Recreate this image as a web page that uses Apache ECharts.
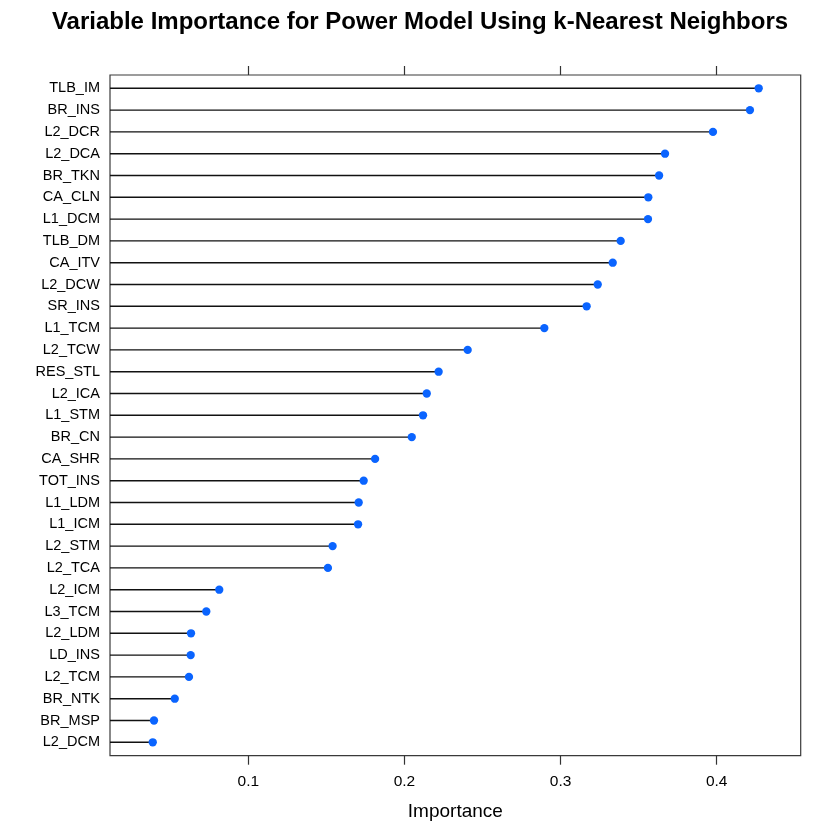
<!DOCTYPE html>
<html>
<head>
<meta charset="utf-8">
<script src="https://cdn.jsdelivr.net/npm/echarts@6/dist/echarts.min.js"></script>
<style>
html,body{margin:0;padding:0;background:#fff;}
#chart{width:840px;height:840px;}
</style>
</head>
<body>
<div id="chart"></div>
<script>
const categories = ["TLB_IM","BR_INS","L2_DCR","L2_DCA","BR_TKN","CA_CLN","L1_DCM","TLB_DM","CA_ITV","L2_DCW","SR_INS","L1_TCM","L2_TCW","RES_STL","L2_ICA","L1_STM","BR_CN","CA_SHR","TOT_INS","L1_LDM","L1_ICM","L2_STM","L2_TCA","L2_ICM","L3_TCM","L2_LDM","LD_INS","L2_TCM","BR_NTK","BR_MSP","L2_DCM"];
const importance = [0.4269,0.4213,0.3976,0.3669,0.3631,0.3562,0.3560,0.3385,0.3334,0.3238,0.3167,0.2896,0.2405,0.2219,0.2143,0.2119,0.2047,0.1812,0.1739,0.1707,0.1703,0.1540,0.1510,0.0814,0.0731,0.0633,0.0631,0.0620,0.0529,0.0396,0.0388];
const tickValues = [0.1,0.2,0.3,0.4];
const xMin = 0.01142, xMax = 0.4538;

const chart = echarts.init(document.getElementById('chart'), null, {renderer:'canvas'});
const font = 'Liberation Sans, Arial, Helvetica, sans-serif';
const option = {
  backgroundColor:'#fff',
  animation:false,
  title:{
    text:'Variable Importance for Power Model Using k-Nearest Neighbors',
    left:'center', top:5,
    textStyle:{fontFamily:font, fontSize:24, fontWeight:'bold', color:'#000'}
  },
  grid:[
    {left:110, right:39.3, top:75, bottom:84.3, show:true, borderColor:'#3a3a3a', borderWidth:1.2, backgroundColor:'transparent'},
    {left:110, right:39.3, top:77.4, bottom:86.8}
  ],
  xAxis:[
    {gridIndex:0, type:'value', position:'bottom', min:xMin, max:xMax,
     axisLine:{show:false}, splitLine:{show:false},
     axisTick:{show:true, length:9, customValues:tickValues, lineStyle:{color:'#333', width:1.2}},
     axisLabel:{show:true, customValues:tickValues, fontFamily:font, fontSize:15.5, color:'#000', margin:18,
       formatter:v=>String(Math.round(v*10)/10)},
     name:'Importance', nameLocation:'middle', nameGap:47,
     nameTextStyle:{fontFamily:font, fontSize:19, color:'#000'}},
    {gridIndex:0, type:'value', position:'top', min:xMin, max:xMax,
     axisLine:{show:false}, splitLine:{show:false},
     axisTick:{show:true, length:9, customValues:tickValues, lineStyle:{color:'#333', width:1.2}},
     axisLabel:{show:false}},
    {gridIndex:1, type:'value', min:xMin, max:xMax, show:false}
  ],
  yAxis:[
    {gridIndex:0, type:'value', show:false, min:0, max:1},
    {gridIndex:1, type:'category', data:categories, inverse:true,
     axisLine:{show:false}, axisTick:{show:false}, splitLine:{show:false},
     axisLabel:{fontFamily:font, fontSize:14.5, color:'#000', margin:10}}
  ],
  series:[
    {type:'bar', xAxisIndex:2, yAxisIndex:1, data:importance, barWidth:1.4,
     itemStyle:{color:'#111'}, clip:true, silent:true},
    {type:'scatter', xAxisIndex:2, yAxisIndex:1, data:importance.map((v,i)=>[v, categories[i]]),
     symbol:'circle', symbolSize:8.3, itemStyle:{color:'#0a64ff', opacity:1}, z:5}
  ]
};
chart.setOption(option);
</script>
</body>
</html>
